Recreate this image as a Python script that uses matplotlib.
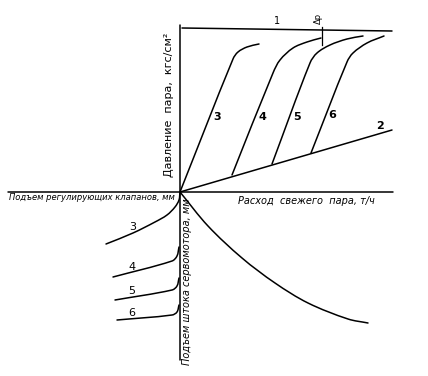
import math

import matplotlib
matplotlib.use("Agg")
import matplotlib.pyplot as plt
from matplotlib.path import Path
from matplotlib.patches import PathPatch

# schematic units: origin at the crossing of the axes, 1 unit ~ 1 px
line1_x = [2, 212]
line1_y = [164, 161]
line2_x = [0, 212]
line2_y = [0, 62]

# upper quadrant: pressure vs. steam flow for valve lifts 3..6
curve3_x = [0, 53, 58, 67, 79]
curve3_y = [0, 133, 140, 145, 148]
curve4_x = [52, 93, 100, 113, 127, 141]
curve4_y = [17, 119, 132, 144, 150, 154]
curve5_x = [92, 130, 137, 150, 167, 183]
curve5_y = [28, 129, 139, 147, 153, 156]
curve6_x = [131, 167, 173, 187, 204]
curve6_y = [39, 130, 139, 149, 156]

# lower right: servomotor stroke vs. flow
stroke_x = [0, 28, 62, 95, 128, 168, 188]
stroke_y = [0, -34, -66, -91, -111, -127, -131]

# lower left: valve lift vs. servomotor stroke
valve3_x = [-74, -47, -25, -13, -5, -1, 0]
valve3_y = [-52, -41, -30, -23, -15, -8, 0]
valve4_x = [-67, -8, -3, -1]
valve4_y = [-85, -69, -64, -55]
valve5_x = [-65, -8, -3, -1]
valve5_y = [-108, -98, -94, -86]
valve6_x = [-63, -8, -3, -1]
valve6_y = [-128, -123, -120, -113]

upper_labels = ["3", "4", "5", "6"]
upper_label_pos = [(37, 75), (82, 75), (117, 75), (152, 77)]
lower_labels = ["3", "4", "5", "6"]
lower_label_pos = [(-47, -35), (-48, -75), (-48, -99), (-48, -121)]


def smooth(ax, xs, ys, lw=1.1):
    # smooth pen stroke through the read points (cubic Bezier segments,
    # tangent lengths limited by segment length so corners don't overshoot)
    pts = list(zip(xs, ys))
    n = len(pts)
    tang = []
    for i in range(n):
        a = pts[max(i - 1, 0)]
        b = pts[min(i + 1, n - 1)]
        dx, dy = b[0] - a[0], b[1] - a[1]
        d = math.hypot(dx, dy) or 1.0
        tang.append((dx / d, dy / d))
    verts = [pts[0]]
    codes = [Path.MOVETO]
    for i in range(n - 1):
        p1, p2 = pts[i], pts[i + 1]
        seg = math.hypot(p2[0] - p1[0], p2[1] - p1[1]) / 3
        c1 = (p1[0] + tang[i][0] * seg, p1[1] + tang[i][1] * seg)
        c2 = (p2[0] - tang[i + 1][0] * seg, p2[1] - tang[i + 1][1] * seg)
        verts += [c1, c2, p2]
        codes += [Path.CURVE4] * 3
    ax.add_patch(PathPatch(Path(verts, codes), fill=False, lw=lw,
                           edgecolor="black", capstyle="round", joinstyle="round"))


fig = plt.figure(figsize=(4.28, 3.76), dpi=100)
ax = fig.add_axes([0, 0, 1, 1])
ax.set_xlim(-180, 248)
ax.set_ylim(-184, 192)
ax.axis("off")

kw = dict(color="black", lw=1.1, solid_capstyle="round")

# axes
ax.plot([-172, 213], [0, 0], **kw)
ax.plot([0, 0], [167, -168], **kw)

ax.plot(line1_x, line1_y, **kw)
ax.plot(line2_x, line2_y, **kw)
for xs, ys in [(curve3_x, curve3_y), (curve4_x, curve4_y),
               (curve5_x, curve5_y), (curve6_x, curve6_y),
               (stroke_x, stroke_y),
               (valve3_x, valve3_y), (valve4_x, valve4_y),
               (valve5_x, valve5_y), (valve6_x, valve6_y)]:
    smooth(ax, xs, ys)

# delta p tick
ax.plot([142, 142], [165, 147], color="black", lw=0.9)
ax.text(138, 174, "Δp", rotation=90, fontsize=6, ha="center", va="center")
ax.text(97, 171, "1", fontsize=7, ha="center", va="center")
ax.text(200, 66, "2", fontsize=8, fontweight="bold", ha="center", va="center")

for lab, (x, y) in zip(upper_labels, upper_label_pos):
    ax.text(x, y, lab, fontsize=8, fontweight="bold", ha="center", va="center")
for lab, (x, y) in zip(lower_labels, lower_label_pos):
    ax.text(x, y, lab, fontsize=8, ha="center", va="center")

ax.text(-11, 87, "Давление  пара,  кгс/см²", rotation=90, fontsize=8,
        ha="center", va="center")
ax.text(-171, -6, "Подъем регулирующих клапанов, мм", fontsize=6,
        style="italic", ha="left", va="center")
ax.text(58, -9, "Расход  свежего  пара, т/ч", fontsize=7,
        style="italic", ha="left", va="center")
ax.text(2, -6, "Подъем штока сервомотора, мм", rotation=90, fontsize=7,
        style="italic", ha="left", va="top")

fig.savefig("out.png", dpi=100, facecolor="white")
